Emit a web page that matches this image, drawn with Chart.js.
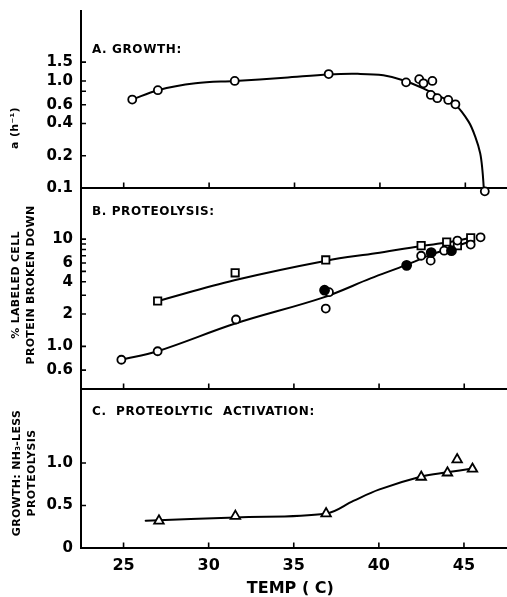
<!DOCTYPE html>
<html>
<head>
<meta charset="utf-8">
<script src="https://cdn.jsdelivr.net/npm/chart.js@4/dist/chart.umd.min.js"></script>
<style>
  html, body { margin: 0; padding: 0; background: #fff; }
  #wrap { position: relative; width: 507px; height: 597px; }
  #wrap canvas { position: absolute; left: 0; top: 0; }
</style>
</head>
<body>
<div id="wrap">
  <canvas id="cA" width="507" height="597"></canvas>
  <canvas id="cB" width="507" height="597"></canvas>
  <canvas id="cC" width="507" height="597"></canvas>
</div>
<script>
// ---------- shared x axis ----------
const tempTicks = [25, 30, 35, 40, 45];

// ---------- A. GROWTH ----------
const growthTemp = [25.5, 27.0, 31.5, 37.0, 41.53, 42.3, 42.55, 43.07, 42.98, 43.36, 44.0, 44.42, 46.14];
const growthRate = [0.67, 0.82, 1.0, 1.16, 0.97, 1.04, 0.95, 1.0, 0.74, 0.69, 0.665, 0.605, 0.093];
const growthFitTemp = [25.5, 27.0, 29.2, 31.5, 34.4, 37.0, 38.7, 40.2, 41.5, 42.9, 43.65, 44.42, 45.19, 45.58, 45.87, 46.0, 46.08];
const growthFitRate = [0.67, 0.82, 0.95, 1.0, 1.07, 1.15, 1.165, 1.13, 1.0, 0.80, 0.70, 0.60, 0.417, 0.302, 0.211, 0.147, 0.1];
const growthTicks = [0.1, 0.2, 0.4, 0.6, 0.8, 1.0, 1.5];
const growthTickLabels = ['0.1', '0.2', '0.4', '0.6', '', '1.0', '1.5'];

// ---------- B. PROTEOLYSIS ----------
const squareTemp = [27.0, 31.55, 36.87, 42.47, 43.97, 44.6, 45.38];
const squareVal = [2.65, 4.85, 6.4, 8.7, 9.4, 8.7, 10.3];
const squareFitTemp = [27.0, 31.5, 36.9, 39.8, 42.5, 44.0, 45.38];
const squareFitVal = [2.65, 4.14, 6.3, 7.39, 8.65, 9.29, 10.3];
const openTemp = [24.87, 27.0, 31.6, 36.87, 37.06, 42.47, 43.03, 43.82, 44.6, 45.38, 45.96];
const openVal = [0.75, 0.90, 1.78, 2.25, 3.2, 7.0, 6.3, 7.8, 9.7, 8.9, 10.4];
const filledTemp = [36.8, 41.62, 43.06, 44.25];
const filledVal = [3.34, 5.7, 7.5, 7.8];
const circleFitTemp = [24.87, 27.0, 31.6, 36.7, 39.5, 41.6, 43.1, 44.25, 45.4];
const circleFitVal = [0.75, 0.90, 1.64, 2.85, 4.3, 5.75, 7.2, 8.3, 9.6];
const protTicks = [0.6, 1, 2, 3, 4, 5, 6, 7, 8, 9, 10];
const protTickLabels = ['0.6', '1.0', '2', '', '4', '', '6', '', '', '', '10'];

// ---------- C. PROTEOLYTIC ACTIVATION ----------
const actTemp = [27.08, 31.57, 36.9, 42.49, 44.03, 44.6, 45.5];
const actVal = [0.32, 0.375, 0.405, 0.835, 0.885, 1.04, 0.93];
const actFitTemp = [26.3, 31.6, 36.9, 38.5, 40.0, 42.5, 44.0, 45.5];
const actFitVal = [0.32, 0.36, 0.405, 0.554, 0.686, 0.84, 0.89, 0.935];
const actTicks = [0, 0.5, 1.0];
const actTickLabels = ['0', '0.5', '1.0'];

// ---------- helpers ----------
const BLACK = '#000';
const F = "'DejaVu Sans', 'Liberation Sans', sans-serif";
Chart.defaults.font.family = F;
Chart.defaults.color = BLACK;

const pts = (xs, ys) => xs.map((x, i) => ({ x: x, y: ys[i] }));

function markers(data, style, radius, fill) {
  return {
    data: data, showLine: false, pointStyle: style,
    pointRadius: radius, pointHoverRadius: radius,
    pointBackgroundColor: fill, pointBorderColor: BLACK, pointBorderWidth: 1.8,
    borderColor: BLACK, backgroundColor: fill, clip: false
  };
}
function fitLine(data) {
  return {
    data: data, showLine: true, pointRadius: 0, pointHoverRadius: 0,
    borderColor: BLACK, borderWidth: 2, fill: false,
    tension: 0.35, clip: false
  };
}

function decor(o) {
  return {
    id: 'decor',
    beforeDatasetsDraw(chart) {
      const ctx = chart.ctx, a = chart.chartArea;
      const xs = chart.scales.x, ys = chart.scales.y;
      ctx.save();
      ctx.strokeStyle = BLACK;
      ctx.lineWidth = 2;
      ctx.beginPath();
      ctx.moveTo(a.left, a.top); ctx.lineTo(a.left, a.bottom + 1);
      ctx.moveTo(a.left - 1, a.bottom); ctx.lineTo(chart.width, a.bottom);
      ctx.stroke();
      ctx.lineWidth = 1.6;
      ctx.beginPath();
      tempTicks.forEach(v => {
        const p = xs.getPixelForValue(v);
        ctx.moveTo(p, a.bottom); ctx.lineTo(p, a.bottom - 5.5);
      });
      ys.ticks.forEach(t => {
        const p = ys.getPixelForValue(t.value);
        ctx.moveTo(a.left, p); ctx.lineTo(a.left + 5, p);
      });
      ctx.stroke();
      ctx.fillStyle = BLACK;
      ctx.textAlign = 'left';
      ctx.textBaseline = 'middle';
      ctx.font = 'bold 12px ' + F;
      ctx.letterSpacing = '0.6px';
      ctx.fillText(o.title, 92, o.titleY);
      ctx.font = 'bold 11px ' + F;
      ctx.letterSpacing = '0.3px';
      ctx.textAlign = 'center';
      o.axisTitle.forEach((line, i) => {
        ctx.save();
        ctx.translate(o.axisX[i], o.axisY);
        ctx.rotate(-Math.PI / 2);
        ctx.fillText(line, 0, 0);
        ctx.restore();
      });
      ctx.restore();
    }
  };
}

function yScale(type, min, max, ticks, labels) {
  return {
    type: type, min: min, max: max, position: 'left',
    grid: { display: false, drawTicks: false },
    border: { display: false },
    afterBuildTicks: s => { s.ticks = ticks.map(v => ({ value: v })); },
    ticks: {
      autoSkip: false, padding: 8, color: BLACK,
      font: { size: 15, weight: 'bold' },
      callback: (v, i) => labels[i]
    },
    afterFit: s => { s.width = 81; s.paddingTop = 0; s.paddingBottom = 0; }
  };
}

const hiddenX = { type: 'linear', min: 22.5, max: 47.1, display: false };
const shownX = {
  type: 'linear', min: 22.5, max: 47.1, position: 'bottom',
  grid: { display: false, drawTicks: false },
  border: { display: false },
  afterBuildTicks: s => { s.ticks = tempTicks.map(v => ({ value: v })); },
  ticks: {
    autoSkip: false, maxRotation: 0, padding: 8, color: BLACK,
    font: { size: 16, weight: 'bold' },
    callback: v => String(v)
  },
  title: {
    display: true, text: 'TEMP ( C)', color: BLACK,
    font: { size: 16, weight: 'bold', lineHeight: 1 },
    padding: { top: 0, bottom: 0 }
  },
  afterFit: s => { s.height = 49; s.paddingLeft = 0; s.paddingRight = 0; }
};

function opts(top, bottom, x, y) {
  return {
    responsive: false, animation: false, devicePixelRatio: 1,
    layout: { padding: { top: top, bottom: bottom, left: 0, right: 0 } },
    plugins: { legend: { display: false }, tooltip: { enabled: false }, title: { display: false } },
    scales: { x: x, y: y },
    elements: { line: { borderJoinStyle: 'round', borderCapStyle: 'round' } }
  };
}

// ---------- Panel A ----------
new Chart(document.getElementById('cA'), {
  type: 'line',
  data: {
    datasets: [
      markers(pts(growthTemp, growthRate), 'circle', 4, '#fff'),
      fitLine(pts(growthFitTemp, growthFitRate))
    ]
  },
  options: opts(10, 409, hiddenX, yScale('logarithmic', 0.1, 4.6, growthTicks, growthTickLabels)),
  plugins: [decor({ title: 'A. GROWTH:', titleY: 50, axisTitle: ['a (h⁻¹)'], axisX: [15], axisY: 128 })]
});

// ---------- Panel B ----------
new Chart(document.getElementById('cB'), {
  type: 'line',
  data: {
    datasets: [
      markers(pts(filledTemp, filledVal), 'circle', 4.5, '#000'),
      markers(pts(openTemp, openVal), 'circle', 4, '#fff'),
      markers(pts(squareTemp, squareVal), 'rect', 5.2, '#fff'),
      fitLine(pts(squareFitTemp, squareFitVal)),
      fitLine(pts(circleFitTemp, circleFitVal))
    ]
  },
  options: opts(188, 208, hiddenX, yScale('logarithmic', 0.4, 30, protTicks, protTickLabels)),
  plugins: [decor({ title: 'B. PROTEOLYSIS:', titleY: 211.5,
    axisTitle: ['% LABELED CELL', 'PROTEIN BROKEN DOWN'], axisX: [16.5, 31.5], axisY: 285 })]
});

// ---------- Panel C ----------
new Chart(document.getElementById('cC'), {
  type: 'line',
  data: {
    datasets: [
      markers(pts(actTemp, actVal), 'triangle', 5.5, '#fff'),
      fitLine(pts(actFitTemp, actFitVal))
    ]
  },
  options: opts(389, 0, shownX, yScale('linear', 0, 1.87, actTicks, actTickLabels)),
  plugins: [decor({ title: 'C.  PROTEOLYTIC  ACTIVATION:', titleY: 412,
    axisTitle: ['GROWTH: NH₃-LESS', 'PROTEOLYSIS'], axisX: [17, 32.5], axisY: 473 })]
});
</script>
</body>
</html>
